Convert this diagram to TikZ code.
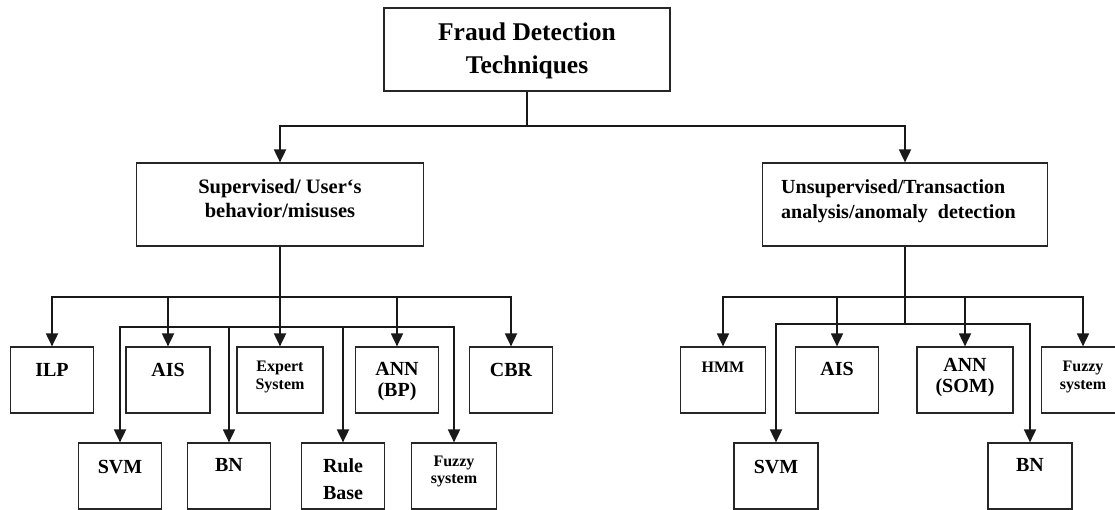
\documentclass[tikz,border=0pt]{standalone}
\usepackage{fontspec}
\setmainfont{Liberation Serif}
\usetikzlibrary{arrows.meta}
\begin{document}
\begin{tikzpicture}[x=1pt,y=-1pt,
  box/.style={draw=black!85, line width=1.2pt, inner sep=0pt, minimum width=#1, minimum height=66pt},
  box/.default=83pt,
  tx/.style={inner sep=0pt, align=center, text=black},
  big/.style={tx, font=\fontsize{20}{21}\selectfont\bfseries},
  small/.style={tx, font=\fontsize{16}{17.5}\selectfont\bfseries},
  conn/.style={draw=black!90, line width=1.8pt},
  arr/.style={-{Triangle[length=13pt,width=12pt]}}
]
\useasboundingbox (0,0) rectangle (1115,510);
\fill[white] (0,0) rectangle (1115,510);
\clip (0,0) rectangle (1115,510);

% top
\node[box=286pt, minimum height=83pt] (top) at (527,49.5) {};
\node[tx, font=\fontsize{25.5}{33}\selectfont\bfseries, anchor=north] (topT) at (527,22.5) {Fraud Detection\\Techniques};

% middle
\node[box=287pt, minimum height=83pt] (midL) at (280,204.5) {};
\node[tx, font=\fontsize{20.5}{24}\selectfont\bfseries, anchor=north] (midLT) at (280,178.9) {Supervised/ User‘s\\behavior/misuses};
\node[box=285pt, minimum height=83pt] (midR) at (905,204.5) {};
\node[tx, align=left, font=\fontsize{20}{25}\selectfont\bfseries, anchor=north west] (midRT) at (781,179.2) {Unsupervised/Transaction\\analysis/anomaly\ \ detection};

% left, first row
\node[box] (ilp) at (52,380) {};
\node[big, anchor=base] (ilpT) at (52,376) {ILP};
\node[box=84pt] (ais) at (168,380) {};
\node[big, anchor=base] (aisT) at (168,376) {AIS};
\node[box=86pt] (exp) at (280,380) {};
\node[small, anchor=north] (expT) at (280,361) {Expert\\System};
\node[box] (ann) at (397,380) {};
\node[big, anchor=north] (annT) at (397,362.2) {ANN\\(BP)};
\node[box] (cbr) at (511,380) {};
\node[big, anchor=base] (cbrT) at (511,376) {CBR};

% left, second row
\node[box] (svm) at (120,476) {};
\node[big, anchor=base] (svmT) at (120,473) {SVM};
\node[box] (bn) at (229,476) {};
\node[big, anchor=base] (bnT) at (229,471) {BN};
\node[box] (rule) at (343,476) {};
\node[tx, font=\fontsize{20}{27}\selectfont\bfseries, anchor=north] (ruleT) at (343,458.2) {Rule\\Base};
\node[box=85pt] (fuz) at (454,476) {};
\node[tx, font=\fontsize{16}{16.5}\selectfont\bfseries, anchor=north] (fuzT) at (454,456) {Fuzzy\\system};

% right, first row
\node[box=85pt] (hmm) at (723,380) {};
\node[small, anchor=base] (hmmT) at (723,372) {HMM};
\node[box] (aisR) at (837,380) {};
\node[big, anchor=base] (aisRT) at (837,375) {AIS};
\node[box=96pt] (annR) at (965,380) {};
\node[big, anchor=north] (annRT) at (965,358.2) {ANN\\(SOM)};
\node[box] (fuzR) at (1083,380) {};
\node[tx, font=\fontsize{16}{18}\selectfont\bfseries, anchor=north] (fuzRT) at (1083,361) {Fuzzy\\system};

% right, second row
\node[box=84pt] (svmR) at (776,476) {};
\node[big, anchor=base] (svmRT) at (776,473) {SVM};
\node[box=84pt] (bnR) at (1030,476) {};
\node[big, anchor=base] (bnRT) at (1030,471) {BN};

% connectors: top level
\coordinate (j0) at (527,126);
\draw[conn] (top.south) -- (j0);
\draw[conn,arr] (j0) -| (midL.north);
\draw[conn,arr] (j0) -| (midR.north);

% connectors: left branch
\coordinate (l1) at (280,297);
\coordinate (l2) at (280,327);
\draw[conn,arr] (midL.south) -- (exp.north);
\foreach \n in {ilp,ais,ann,cbr} \draw[conn,arr] (l1) -| (\n.north);
\foreach \n in {svm,bn,rule,fuz} \draw[conn,arr] (l2) -| (\n.north);

% connectors: right branch
\coordinate (r1) at (905,297);
\coordinate (r2) at (905,324);
\draw[conn] (midR.south) -- (r2);
\foreach \n in {hmm,aisR,annR,fuzR} \draw[conn,arr] (r1) -| (\n.north);
\foreach \n in {svmR,bnR} \draw[conn,arr] (r2) -| (\n.north);
\end{tikzpicture}
\end{document}
